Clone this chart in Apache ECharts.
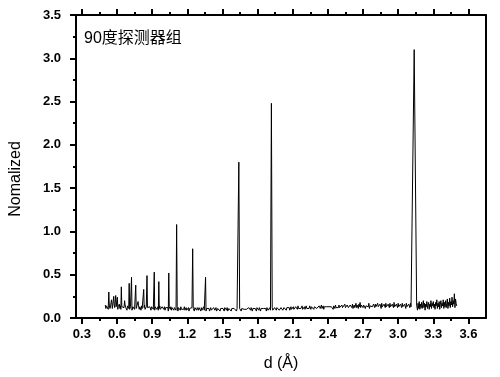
<!DOCTYPE html>
<html>
<head>
<meta charset="utf-8">
<script src="https://cdn.jsdelivr.net/npm/echarts@6/dist/echarts.min.js"></script>
<style>
  html, body { margin: 0; padding: 0; background: #fff; }
  #chart { width: 500px; height: 377px; }
</style>
</head>
<body>
<div id="chart"></div>
<script>
// baseline readings, d from 0.500 to 3.500 every 0.005 (one row = 0.1 Å)
var baseStart = 0.5;
var baseStep = 0.005;
var baseline = [
  0.15,0.11,0.14,0.12,0.16,0.10,0.13,0.15,0.11,0.14,0.12,0.16,0.11,0.13,0.10,0.15,0.12,0.14,0.11,0.13,
  0.15,0.10,0.13,0.12,0.16,0.11,0.14,0.10,0.13,0.15,0.11,0.14,0.12,0.10,0.15,0.12,0.13,0.09,0.14,0.12,
  0.11,0.15,0.10,0.13,0.12,0.14,0.09,0.13,0.11,0.15,0.10,0.12,0.14,0.11,0.13,0.09,0.12,0.14,0.10,0.13,
  0.12,0.09,0.14,0.11,0.13,0.10,0.12,0.15,0.10,0.12,0.13,0.09,0.12,0.11,0.14,0.10,0.13,0.11,0.09,0.13,
  0.11,0.14,0.10,0.12,0.09,0.13,0.11,0.14,0.10,0.12,0.13,0.09,0.11,0.14,0.10,0.12,0.08,0.13,0.11,0.12,
  0.10,0.13,0.09,0.12,0.11,0.14,0.10,0.12,0.08,0.13,0.11,0.10,0.13,0.09,0.12,0.11,0.14,0.09,0.12,0.10,
  0.12,0.09,0.11,0.13,0.08,0.12,0.10,0.11,0.09,0.13,0.10,0.12,0.08,0.11,0.10,0.13,0.09,0.11,0.12,0.09,
  0.11,0.10,0.12,0.08,0.11,0.13,0.09,0.10,0.12,0.09,0.11,0.10,0.08,0.12,0.10,0.11,0.09,0.12,0.10,0.09,
  0.12,0.10,0.11,0.08,0.12,0.09,0.11,0.10,0.13,0.09,0.10,0.12,0.08,0.11,0.10,0.12,0.09,0.11,0.08,0.10,
  0.12,0.09,0.10,0.11,0.08,0.12,0.10,0.09,0.11,0.12,0.08,0.10,0.11,0.09,0.12,0.10,0.08,0.11,0.10,0.12,
  0.09,0.11,0.10,0.08,0.12,0.10,0.11,0.09,0.12,0.08,0.10,0.11,0.09,0.12,0.10,0.08,0.11,0.12,0.09,0.10,
  0.11,0.09,0.12,0.10,0.08,0.11,0.10,0.12,0.09,0.11,0.10,0.12,0.08,0.11,0.10,0.09,0.12,0.10,0.11,0.09,
  0.12,0.10,0.09,0.11,0.08,0.12,0.10,0.11,0.09,0.12,0.10,0.08,0.11,0.10,0.12,0.09,0.11,0.10,0.08,0.12,
  0.10,0.11,0.09,0.12,0.10,0.08,0.11,0.12,0.09,0.10,0.11,0.09,0.12,0.10,0.11,0.08,0.12,0.10,0.09,0.11,
  0.10,0.12,0.09,0.11,0.10,0.12,0.09,0.11,0.08,0.12,0.10,0.11,0.09,0.12,0.10,0.11,0.13,0.09,0.11,0.10,
  0.12,0.10,0.13,0.09,0.11,0.12,0.10,0.13,0.11,0.09,0.12,0.11,0.13,0.10,0.12,0.09,0.11,0.13,0.10,0.12,
  0.11,0.13,0.10,0.12,0.09,0.13,0.11,0.12,0.10,0.14,0.11,0.12,0.10,0.13,0.11,0.12,0.14,0.10,0.12,0.11,
  0.13,0.10,0.12,0.14,0.11,0.12,0.10,0.13,0.11,0.14,0.12,0.10,0.13,0.11,0.12,0.14,0.10,0.13,0.12,0.11,
  0.14,0.11,0.12,0.13,0.10,0.14,0.12,0.11,0.13,0.15,0.11,0.12,0.14,0.10,0.13,0.12,0.14,0.11,0.13,0.12,
  0.14,0.11,0.13,0.12,0.15,0.11,0.13,0.14,0.12,0.10,0.14,0.13,0.11,0.15,0.12,0.13,0.11,0.14,0.12,0.15,
  0.12,0.14,0.11,0.13,0.15,0.12,0.14,0.11,0.13,0.16,0.12,0.14,0.11,0.15,0.13,0.12,0.14,0.11,0.15,0.13,
  0.14,0.12,0.16,0.11,0.13,0.15,0.12,0.14,0.17,0.12,0.15,0.13,0.11,0.16,0.13,0.18,0.12,0.15,0.13,0.16,
  0.12,0.15,0.13,0.17,0.11,0.14,0.16,0.12,0.15,0.13,0.17,0.11,0.14,0.16,0.12,0.15,0.13,0.11,0.16,0.14,
  0.12,0.16,0.13,0.15,0.11,0.17,0.13,0.15,0.12,0.16,0.14,0.11,0.17,0.13,0.15,0.12,0.16,0.14,0.12,0.17,
  0.13,0.15,0.11,0.16,0.14,0.12,0.17,0.13,0.15,0.11,0.16,0.14,0.12,0.18,0.13,0.15,0.11,0.16,0.14,0.12,
  0.17,0.13,0.15,0.11,0.16,0.14,0.12,0.17,0.13,0.15,0.12,0.16,0.14,0.11,0.17,0.13,0.15,0.12,0.16,0.14,
  0.12,0.17,0.13,0.15,0.14,0.12,0.16,0.14,0.13,0.15,0.14,0.13,0.15,0.09,0.17,0.11,0.19,0.10,0.16,0.12,
  0.18,0.11,0.15,0.20,0.12,0.17,0.09,0.16,0.13,0.19,0.11,0.15,0.18,0.10,0.16,0.13,0.20,0.11,0.17,0.14,
  0.19,0.12,0.16,0.10,0.18,0.14,0.21,0.11,0.17,0.13,0.19,0.10,0.16,0.20,0.12,0.17,0.14,0.21,0.11,0.18,
  0.13,0.20,0.12,0.17,0.22,0.11,0.18,0.14,0.23,0.12,0.19,0.15,0.24,0.13,0.20,0.16,0.28,0.12,0.22,0.17,
  0.14
];

// diffraction peaks: position (Å), height, half width at base
var peakD = [0.530, 0.553, 0.572, 0.589, 0.603, 0.637, 0.665, 0.704, 0.724, 0.760, 0.780,
             0.828, 0.856, 0.918, 0.957, 1.042, 1.109, 1.246, 1.356, 1.640, 1.918, 3.137];
var peakH = [0.30, 0.21, 0.25, 0.26, 0.24, 0.36, 0.20, 0.40, 0.47, 0.38, 0.19,
             0.33, 0.49, 0.53, 0.42, 0.52, 1.08, 0.80, 0.47, 1.80, 2.48, 3.10];
var peakW = [0.004, 0.004, 0.004, 0.004, 0.004, 0.004, 0.004, 0.004, 0.004, 0.004, 0.004,
             0.004, 0.004, 0.004, 0.004, 0.004, 0.005, 0.005, 0.004, 0.007, 0.007, 0.021];

var majorX = [0.3, 0.6, 0.9, 1.2, 1.5, 1.8, 2.1, 2.4, 2.7, 3.0, 3.3, 3.6];
var minorX = [0.45, 0.75, 1.05, 1.35, 1.65, 1.95, 2.25, 2.55, 2.85, 3.15, 3.45];

function buildData() {
  var pts = baseline.map(function (v, i) {
    return [+(baseStart + i * baseStep).toFixed(3), v];
  });
  for (var k = 0; k < peakD.length; k++) {
    var d = peakD[k], w = peakW[k];
    var lo = baseline[Math.max(0, Math.round((d - w - baseStart) / baseStep))];
    var hi = baseline[Math.min(baseline.length - 1, Math.round((d + w - baseStart) / baseStep))];
    pts = pts.filter(function (p) { return Math.abs(p[0] - d) >= w; });
    pts.push([d - w, lo], [d, peakH[k]], [d + w, hi]);
  }
  pts.sort(function (a, b) { return a[0] - b[0]; });
  return pts;
}

var font = '"Liberation Sans", Arial, "Noto Sans CJK SC", sans-serif';
var lineBlack = { show: true, lineStyle: { color: '#000', width: 2 } };

var chart = echarts.init(document.getElementById('chart'));
chart.setOption({
  animation: false,
  backgroundColor: '#fff',
  title: {
    text: '90度探测器组',
    left: 84,
    top: 31,
    padding: 0,
    textStyle: { fontFamily: font, fontSize: 16, fontWeight: 'normal', color: '#000' }
  },
  grid: { left: 71, right: 14, top: 15, bottom: 57 },
  xAxis: [
    {
      type: 'value', position: 'bottom', min: 0.25, max: 3.75,
      name: 'd (Å)', nameLocation: 'middle', nameGap: 38,
      nameTextStyle: { fontFamily: font, fontSize: 16, color: '#000' },
      axisLine: lineBlack,
      axisTick: { show: true, inside: false, length: 6, customValues: majorX, lineStyle: { color: '#000', width: 2 } },
      axisLabel: {
        customValues: majorX, margin: 10, color: '#000',
        fontFamily: font, fontSize: 13, fontWeight: 'bold',
        formatter: function (v) { return v.toFixed(1); }
      },
      splitLine: { show: false }
    },
    {
      type: 'value', position: 'bottom', min: 0.25, max: 3.75,
      axisLine: { show: false },
      axisTick: { show: true, length: 3, customValues: minorX, lineStyle: { color: '#000', width: 2 } },
      axisLabel: { show: false },
      splitLine: { show: false }
    },
    {
      type: 'value', position: 'top', min: 0.25, max: 3.75,
      axisLine: lineBlack,
      axisTick: { show: true, length: 6, customValues: majorX, lineStyle: { color: '#000', width: 2 } },
      axisLabel: { show: false },
      splitLine: { show: false }
    },
    {
      type: 'value', position: 'top', min: 0.25, max: 3.75,
      axisLine: { show: false },
      axisTick: { show: true, length: 3, customValues: minorX, lineStyle: { color: '#000', width: 2 } },
      axisLabel: { show: false },
      splitLine: { show: false }
    }
  ],
  yAxis: [
    {
      type: 'value', position: 'left', min: 0, max: 3.5, interval: 0.5,
      name: 'Nomalized', nameLocation: 'middle', nameGap: 52,
      nameTextStyle: { fontFamily: font, fontSize: 16, color: '#000', padding: [0, 25, 0, 0] },
      axisLine: lineBlack,
      axisTick: { show: true, length: 6, lineStyle: { color: '#000', width: 2 } },
      minorTick: { show: true, splitNumber: 2, length: 3, lineStyle: { color: '#000', width: 2 } },
      axisLabel: {
        margin: 15, color: '#000', fontFamily: font, fontSize: 13, fontWeight: 'bold',
        formatter: function (v) { return v.toFixed(1); }
      },
      splitLine: { show: false }
    },
    {
      type: 'value', position: 'right', min: 0, max: 3.5,
      axisLine: lineBlack,
      axisTick: { show: false },
      axisLabel: { show: false },
      splitLine: { show: false }
    }
  ],
  series: [{
    type: 'line',
    xAxisIndex: 0,
    yAxisIndex: 0,
    data: buildData(),
    symbol: 'none',
    sampling: null,
    lineStyle: { color: '#000', width: 1 },
    z: 1
  }]
});
</script>
</body>
</html>
